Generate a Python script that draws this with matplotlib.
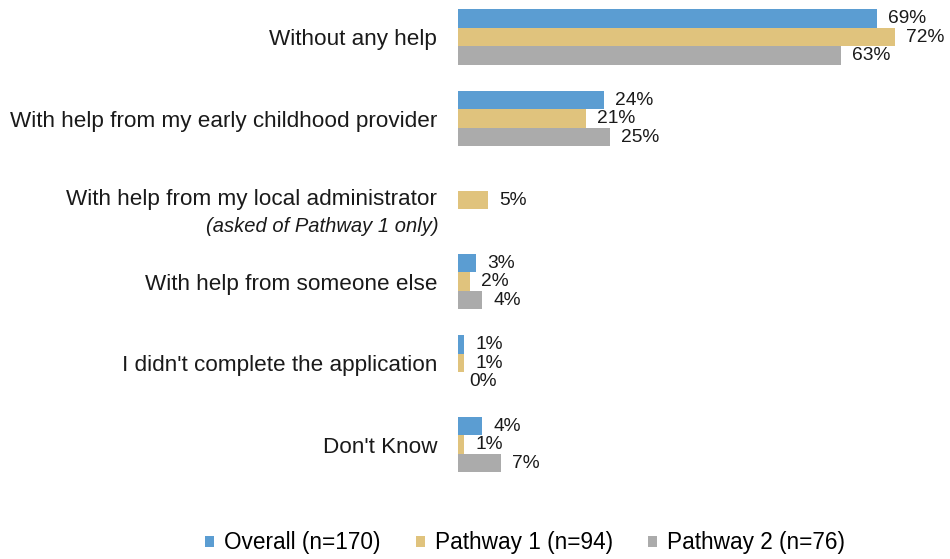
import numpy as np
import matplotlib.pyplot as plt
import matplotlib.transforms as mtransforms
from matplotlib.patches import Patch

plt.rcParams['font.family'] = ['Liberation Sans', 'DejaVu Sans']

categories = [
    "Without any help",
    "With help from my early childhood provider",
    "With help from my local administrator",
    "With help from someone else",
    "I didn't complete the application",
    "Don't Know",
]
overall = [69, 24, np.nan, 3, 1, 4]
pathway1 = [72, 21, 5, 2, 1, 1]
pathway2 = [63, 25, np.nan, 4, 0, 7]
series_names = ["Overall (n=170)", "Pathway 1 (n=94)", "Pathway 2 (n=76)"]
colors = ["#5B9DD2", "#E0C37D", "#ABABAB"]

fig = plt.figure(figsize=(9.5, 5.59), dpi=100)
ax = fig.add_axes([458 / 950, 69 / 559, 490 / 950, 490 / 559])

y = np.arange(len(categories))
h = 0.227
for i, (vals, col) in enumerate(zip([overall, pathway1, pathway2], colors)):
    offs = (i - 1) * h
    vals = np.array(vals, dtype=float)
    ok = ~np.isnan(vals)
    ax.barh(y[ok] + offs, vals[ok], height=h, color=col, edgecolor='none')
    for yy, v in zip(y[ok] + offs, vals[ok]):
        ax.annotate(f"{v:.0f}%", (v, yy), xytext=(11, 0), textcoords='offset pixels',
                    va='center', ha='left', fontsize=13.8, color='#1a1a1a')

ax.set_xlim(0, 80.7)
ax.set_ylim(5.558, -0.454)
ax.set_yticks(y)
labels = ax.set_yticklabels(categories, fontsize=16.2, color='#1a1a1a')
ax.tick_params(axis='y', length=0, pad=15)
ax.set_xticks([])
for s in ax.spines.values():
    s.set_visible(False)

# nudge the two-line category up so the note fits underneath
lift = mtransforms.ScaledTranslation(0, 3 / 100, fig.dpi_scale_trans)
labels[2].set_transform(labels[2].get_transform() + lift)
ax.text(-19 / 6.07, 2.33, "(asked of Pathway 1 only)", ha='right', va='center',
        fontsize=14.5, style='italic', color='#1a1a1a')

handles = [Patch(facecolor=c, edgecolor='none') for c in colors]
fig.legend(handles, series_names, loc='center', bbox_to_anchor=(525 / 950, 1 - 543 / 559),
           ncol=3, frameon=False, fontsize=16.3, handlelength=0.4, handleheight=0.4,
           handletextpad=0.45, columnspacing=1.55)

fig.savefig("out.png", dpi=100)
